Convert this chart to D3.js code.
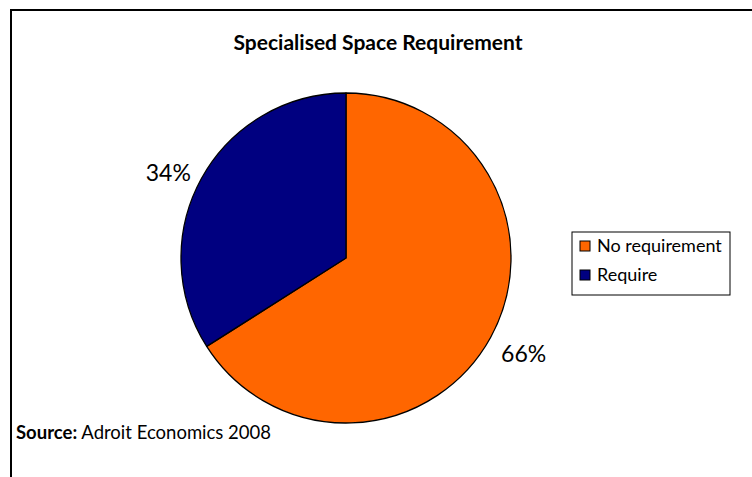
<!DOCTYPE html>
<html>
<head>
<meta charset="utf-8">
<script src="https://cdn.jsdelivr.net/npm/d3@7"></script>
<style>
  html, body { margin: 0; padding: 0; background: #fff; }
  svg { display: block; }
</style>
</head>
<body>
<svg id="chart" width="752" height="477"></svg>
<script>
// Share of respondents by specialised space requirement
const categories = ["No requirement", "Require"];
const values = [66, 34];
const colors = ["#FF6600", "#000080"];
const titleText = "Specialised Space Requirement";
const sourceLabel = "Source:";
const sourceText = " Adroit Economics 2008";

const W = 752, H = 477;
const svg = d3.select("#chart");
const fontFamily = "Lato, 'Open Sans', sans-serif";

// Outer chart frame (runs off the right and bottom edges)
svg.append("rect")
  .attr("x", 11).attr("y", 10)
  .attr("width", W + 20).attr("height", H + 20)
  .attr("fill", "#fff")
  .attr("stroke", "#000").attr("stroke-width", 2);

// Title
svg.append("text")
  .attr("x", 378).attr("y", 50)
  .attr("text-anchor", "middle")
  .style("font-family", fontFamily)
  .style("font-weight", "bold")
  .style("font-size", "21px")
  .text(titleText);

// Pie
const cx = 346, cy = 258, r = 165;
const pie = d3.pie().sort(null).value(d => d.value);
const data = pie(categories.map((c, i) => ({ cat: c, value: values[i], color: colors[i] })));
const arc = d3.arc().innerRadius(0).outerRadius(r);

const g = svg.append("g").attr("transform", `translate(${cx},${cy})`);
g.selectAll("path.slice")
  .data(data)
  .enter().append("path")
  .attr("class", "slice")
  .attr("d", arc)
  .attr("fill", d => d.data.color)
  .attr("stroke", "#000")
  .attr("stroke-width", 1.3)
  .attr("stroke-linejoin", "round");

// Percentage labels outside each slice; labels below the centre sit one
// text-height lower so their top edge meets the label point
const labelArc = d3.arc().innerRadius(r + 12).outerRadius(r + 12);
g.selectAll("text.pct")
  .data(data)
  .enter().append("text")
  .attr("class", "pct")
  .attr("transform", d => {
    const [x, y] = labelArc.centroid(d);
    return `translate(${x},${y > 0 ? y + 11 : y})`;
  })
  .attr("text-anchor", d => ((d.startAngle + d.endAngle) / 2 < Math.PI ? "start" : "end"))
  .attr("dy", "0.35em")
  .style("font-family", fontFamily)
  .style("font-size", "23px")
  .text(d => d.data.value + "%");

// Legend
const legend = svg.append("g").attr("transform", "translate(572,232)");
legend.append("rect")
  .attr("width", 158).attr("height", 63)
  .attr("fill", "#fff")
  .attr("stroke", "#000").attr("stroke-width", 1);
const items = legend.selectAll("g.item")
  .data(categories)
  .enter().append("g")
  .attr("class", "item")
  .attr("transform", (d, i) => `translate(8,${14 + i * 29})`);
items.append("rect")
  .attr("width", 10).attr("height", 10)
  .attr("y", -5)
  .attr("fill", (d, i) => colors[i])
  .attr("stroke", "#000").attr("stroke-width", 1);
items.append("text")
  .attr("x", 17)
  .attr("dy", "0.35em")
  .style("font-family", fontFamily)
  .style("font-size", "18px")
  .text(d => d);

// Source note
const src = svg.append("text")
  .attr("x", 16).attr("y", 439)
  .style("font-family", fontFamily)
  .style("font-size", "18.5px");
src.append("tspan").style("font-weight", "bold").text(sourceLabel);
src.append("tspan").text(sourceText);
</script>
</body>
</html>
